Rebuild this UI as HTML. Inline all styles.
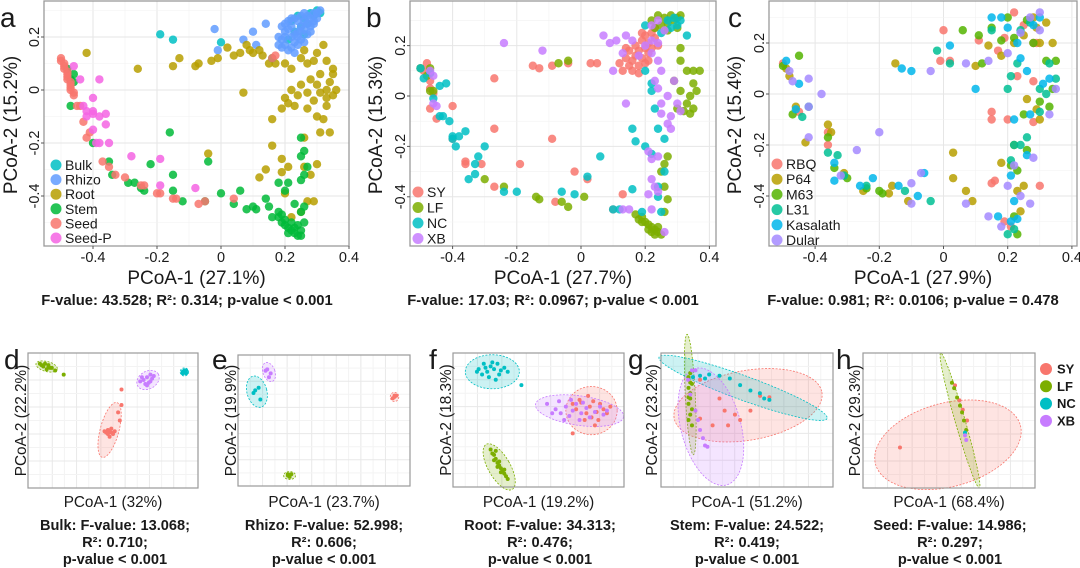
<!DOCTYPE html>
<html><head><meta charset="utf-8">
<style>
html,body{margin:0;padding:0;background:#fff;}
svg{display:block;font-family:"Liberation Sans",Arial,sans-serif;}
</style></head>
<body>
<svg id="fig" width="1080" height="568" viewBox="0 0 1080 568"></svg>
<script>
// ---------- DATA ----------
const ticks = [-0.4,-0.2,0,0.2,0.4];
const tickLabels = ["-0.4","-0.2","0","0.2","0.4"];
const yTicks = [-0.4,-0.2,0,0.2];
const yTickLabels = ["-0.4","-0.2","0","0.2"];

// panel a
const aGroups = ["Bulk","Rhizo","Root","Stem","Seed","Seed-P"];
const aColors = ["#00BFC4","#619CFF","#B79F00","#00BA38","#F8766D","#F564E3"];
const aBulk = [[-0.19,0.21],[-0.15,0.19],[0.0,0.18],[0.22,0.26],[0.24,0.28],[0.26,0.27],[0.28,0.29],[0.3,0.3],[0.31,0.29],[0.23,0.22],[0.25,0.24],[0.27,0.25],[0.29,0.28],[0.21,0.19],[0.26,0.21]];
const aRhizo = [[-0.02,0.23],[0.1,0.22],[0.14,0.25],[0.07,0.19],[0.11,0.17],[-0.01,0.15],[0.18,0.2],[0.19,0.24],[0.2,0.17],[0.2,0.22],[0.21,0.26],[0.21,0.15],[0.22,0.2],[0.22,0.24],[0.23,0.27],[0.23,0.18],[0.24,0.22],[0.24,0.26],[0.25,0.19],[0.25,0.28],[0.26,0.23],[0.26,0.26],[0.27,0.21],[0.27,0.28],[0.28,0.24],[0.28,0.27],[0.29,0.25],[0.29,0.29],[0.3,0.27],[0.31,0.3],[0.19,0.16],[0.2,0.2],[0.22,0.16],[0.23,0.14],[0.24,0.2],[0.25,0.24],[0.26,0.18],[0.27,0.25],[0.28,0.22],[0.21,0.23],[0.19,0.19],[0.18,0.17],[0.23,0.21],[0.24,0.17],[0.26,0.29],[0.29,0.26],[0.3,0.29],[0.25,0.22],[0.22,0.27],[0.2,0.25]];
const aRoot = [[-0.26,0.08],[-0.42,0.14],[-0.15,0.09],[-0.13,0.12],[-0.08,0.09],[-0.07,0.1],[-0.03,0.11],[-0.01,0.12],[0.02,0.16],[0.04,0.13],[0.06,0.14],[0.08,0.17],[0.09,0.15],[0.1,0.14],[0.12,0.15],[0.13,0.13],[0.15,0.1],[0.17,0.1],[0.2,0.1],[0.22,0.08],[0.25,0.12],[0.27,0.1],[0.3,0.14],[0.32,0.17],[0.33,0.11],[0.35,0.08],[0.35,0.06],[0.34,0.03],[0.36,0.0],[0.33,0.0],[0.31,-0.01],[0.3,0.02],[0.29,-0.04],[0.33,-0.03],[0.35,-0.02],[0.27,-0.01],[0.25,0.02],[0.24,-0.02],[0.22,0.0],[0.21,-0.05],[0.19,-0.07],[0.2,-0.03],[0.23,-0.06],[0.27,-0.07],[0.3,-0.1],[0.32,-0.11],[0.33,-0.06],[0.34,-0.16],[0.31,-0.16],[0.16,-0.11],[0.07,-0.01],[0.16,-0.21],[0.26,-0.18],[0.3,-0.28],[0.28,-0.32],[0.26,-0.29],[0.19,-0.26],[0.19,-0.31],[0.21,-0.29],[0.12,-0.33],[0.14,-0.3],[0.27,-0.42],[0.25,-0.46],[0.22,-0.48],[0.29,-0.42],[0.2,-0.39],[-0.04,-0.24],[0.31,0.06],[0.28,0.04],[0.26,0.15],[0.29,0.11]];
const aStem = [[-0.48,0.08],[-0.47,0.04],[-0.46,0.06],[-0.46,0.03],[-0.47,-0.06],[-0.4,-0.2],[-0.35,-0.27],[-0.34,-0.32],[-0.29,-0.35],[-0.27,-0.35],[-0.25,-0.37],[-0.24,-0.38],[-0.22,-0.28],[-0.16,-0.16],[-0.15,-0.32],[-0.15,-0.38],[-0.12,-0.42],[-0.04,-0.27],[-0.05,-0.42],[0.0,-0.39],[0.04,-0.43],[0.06,-0.38],[0.08,-0.45],[0.1,-0.44],[0.11,-0.45],[0.14,-0.41],[0.15,-0.44],[0.16,-0.48],[0.18,-0.46],[0.18,-0.35],[0.2,-0.38],[0.23,-0.43],[0.25,-0.46],[0.26,-0.44],[0.25,-0.34],[0.26,-0.32],[0.27,-0.29],[0.25,-0.25],[0.26,-0.23],[0.25,-0.18],[0.21,-0.35],[0.18,-0.48],[0.19,-0.5],[0.2,-0.51],[0.21,-0.52],[0.22,-0.53],[0.23,-0.54],[0.24,-0.55],[0.25,-0.53],[0.24,-0.51],[0.22,-0.5],[0.26,-0.5],[0.23,-0.52],[0.2,-0.49],[0.16,0.12],[0.21,-0.54],[0.25,-0.55],[0.19,-0.47]];
const aSeed = [[-0.5,0.12],[-0.5,0.11],[-0.49,0.1],[-0.49,0.09],[-0.49,0.08],[-0.48,0.07],[-0.48,0.06],[-0.48,0.05],[-0.48,0.04],[-0.47,0.03],[-0.47,0.02],[-0.47,0.01],[-0.47,0.0],[-0.46,-0.01],[-0.46,-0.02],[-0.45,-0.06],[-0.44,-0.06],[-0.43,-0.12],[-0.41,-0.16],[-0.42,-0.18],[-0.37,-0.27],[-0.35,-0.29],[-0.33,-0.32],[-0.3,-0.33],[-0.25,-0.36],[-0.24,-0.36],[-0.2,-0.39],[-0.19,-0.39],[-0.15,-0.41],[-0.14,-0.41],[-0.07,-0.43],[-0.05,-0.42],[0.04,-0.41],[0.16,0.12],[0.17,0.13]];
const aSeedP = [[-0.46,0.09],[-0.44,0.04],[-0.38,0.04],[-0.4,-0.03],[-0.43,-0.06],[-0.42,-0.08],[-0.42,-0.1],[-0.4,-0.08],[-0.4,-0.09],[-0.38,-0.1],[-0.4,-0.15],[-0.36,-0.09],[-0.36,-0.13],[-0.38,-0.2],[-0.35,-0.2],[-0.39,-0.2],[-0.28,-0.25],[-0.19,-0.26],[-0.19,-0.36],[-0.08,-0.37]];

// panel b
const bGroups = ["SY","LF","NC","XB"];
const bColors = ["#F8766D","#7CAE00","#00BFC4","#C77CFF"];
const bSY = [[-0.5,0.11],[-0.48,0.13],[-0.49,0.1],[-0.47,0.06],[-0.47,0.03],[-0.46,0.01],[-0.47,-0.05],[-0.45,-0.09],[-0.4,-0.17],[-0.36,-0.26],[-0.36,-0.27],[-0.31,-0.27],[-0.27,-0.36],[-0.27,-0.13],[-0.27,0.07],[-0.4,-0.04],[-0.19,-0.27],[-0.15,0.12],[-0.13,0.11],[-0.09,0.12],[-0.09,-0.17],[-0.08,-0.42],[-0.04,0.13],[-0.02,-0.3],[0.03,0.13],[0.05,0.13],[0.02,-0.33],[0.12,0.13],[0.1,-0.45],[0.13,-0.39],[0.13,0.1],[0.14,0.15],[0.15,0.12],[0.15,0.18],[0.16,0.14],[0.17,0.2],[0.17,0.16],[0.18,0.12],[0.18,0.18],[0.19,0.22],[0.19,0.15],[0.2,0.19],[0.2,0.24],[0.21,0.17],[0.21,0.21],[0.22,0.25],[0.22,0.19],[0.23,0.23],[0.23,0.27],[0.24,0.2],[0.16,0.1],[0.18,0.09],[0.2,0.13],[0.14,0.19],[0.19,0.25],[0.21,0.14]];
const bLF = [[-0.5,0.11],[-0.48,0.08],[-0.47,0.02],[-0.46,0.02],[-0.47,0.11],[-0.3,-0.33],[-0.24,-0.36],[-0.14,-0.4],[-0.13,-0.41],[-0.06,-0.42],[-0.04,-0.44],[0.01,-0.4],[-0.04,0.14],[-0.07,0.13],[0.17,-0.47],[0.18,-0.49],[0.19,-0.5],[0.2,-0.5],[0.21,-0.51],[0.21,-0.53],[0.22,-0.52],[0.22,-0.54],[0.23,-0.53],[0.23,-0.55],[0.24,-0.52],[0.24,-0.54],[0.25,-0.55],[0.19,-0.48],[0.26,-0.46],[0.22,0.3],[0.24,0.32],[0.25,0.28],[0.26,0.31],[0.27,0.29],[0.28,0.32],[0.29,0.3],[0.3,0.31],[0.31,0.32],[0.23,0.27],[0.27,0.26],[0.3,0.27],[0.31,0.14],[0.33,0.1],[0.35,0.1],[0.37,0.1],[0.35,0.05],[0.36,0.02],[0.34,0.0],[0.33,-0.03],[0.35,-0.05],[0.32,-0.06],[0.34,-0.07],[0.3,-0.05],[0.31,0.02],[0.29,0.06],[0.25,-0.3],[0.26,-0.27],[0.27,-0.24],[0.27,-0.41],[0.26,-0.36],[0.31,0.19]];
const bNC = [[-0.5,0.11],[-0.49,0.07],[-0.47,0.09],[-0.46,-0.01],[-0.44,0.04],[-0.42,0.05],[-0.44,-0.08],[-0.43,-0.08],[-0.41,-0.1],[-0.4,-0.16],[-0.4,-0.17],[-0.39,-0.2],[-0.38,-0.16],[-0.36,-0.14],[-0.3,-0.2],[-0.32,-0.24],[-0.35,-0.33],[-0.33,-0.31],[-0.33,-0.27],[-0.24,-0.38],[-0.2,-0.38],[-0.06,-0.38],[-0.02,-0.39],[0.02,-0.32],[0.06,-0.24],[0.1,-0.45],[0.12,-0.45],[0.16,-0.13],[0.17,-0.18],[0.16,-0.37],[0.19,-0.46],[0.22,-0.23],[0.24,-0.36],[0.26,-0.3],[0.24,-0.4],[0.25,-0.46],[0.2,-0.2],[0.22,0.02],[0.2,0.1],[0.22,0.05],[0.2,0.28],[0.25,0.25],[0.28,0.27],[0.3,0.28],[0.31,0.3],[0.33,0.24],[0.27,0.3],[0.29,0.31],[0.24,-0.13],[0.26,-0.17],[0.23,-0.05]];
const bXB = [[-0.47,0.1],[-0.46,0.08],[-0.46,-0.03],[-0.45,-0.04],[-0.24,0.21],[-0.12,0.18],[0.07,0.24],[0.09,0.21],[0.11,0.22],[0.14,0.24],[0.16,0.22],[0.13,0.17],[0.1,0.1],[0.14,-0.03],[0.18,0.16],[0.2,0.2],[0.22,0.22],[0.24,0.21],[0.22,0.17],[0.24,0.14],[0.25,0.1],[0.23,0.06],[0.24,0.03],[0.27,0.0],[0.25,-0.03],[0.25,-0.07],[0.28,-0.08],[0.3,-0.03],[0.31,-0.06],[0.29,0.06],[0.27,-0.11],[0.28,-0.13],[0.21,-0.22],[0.22,-0.25],[0.24,-0.24],[0.22,-0.33],[0.23,-0.36],[0.21,-0.39],[0.24,-0.38],[0.22,-0.45],[0.15,-0.45],[0.13,-0.45],[0.26,-0.54],[0.26,0.26],[0.22,0.28],[0.24,0.3]];

// panel c
const cGroups = ["RBQ","P64","M63","L31","Kasalath","Dular"];
const cColors = ["#F8766D","#B79F00","#53B400","#00C094","#00B6EB","#A58AFF"];
const cRBQ = [[-0.5,0.12],[-0.45,-0.07],[-0.36,-0.15],[-0.36,-0.2],[0.0,0.25],[-0.01,0.13],[0.02,0.13],[0.11,0.21],[0.17,0.17],[0.19,0.22],[0.22,0.32],[0.25,0.27],[0.28,0.2],[0.29,0.2],[0.15,-0.07],[0.15,-0.1],[0.2,-0.1],[0.28,-0.11],[0.15,-0.35],[0.16,-0.34],[0.3,-0.36],[0.19,-0.5],[0.21,-0.52],[0.23,0.07],[0.28,0.05]];
const cP64 = [[-0.49,0.1],[-0.48,0.07],[-0.46,-0.05],[-0.36,-0.12],[-0.35,-0.15],[-0.43,-0.19],[-0.31,-0.31],[-0.25,-0.38],[-0.16,-0.36],[-0.17,-0.39],[-0.11,-0.42],[-0.15,0.12],[0.03,-0.23],[0.03,-0.33],[0.07,-0.38],[0.09,-0.42],[0.1,0.11],[0.14,0.19],[0.18,0.15],[0.25,0.23],[0.29,0.26],[0.32,0.28],[0.3,0.2],[0.34,0.2],[0.26,-0.02],[0.29,-0.06],[0.22,-0.2],[0.23,-0.38],[0.25,-0.36],[0.24,-0.46],[0.18,-0.27],[0.3,-0.1],[0.22,0.2],[0.28,0.3]];
const cM63 = [[-0.45,0.15],[-0.5,0.11],[-0.47,-0.08],[-0.36,-0.17],[-0.34,-0.29],[-0.3,-0.33],[-0.19,-0.39],[-0.24,-0.37],[-0.2,-0.38],[0.06,0.25],[0.11,0.23],[0.15,0.26],[0.18,0.21],[0.2,0.3],[0.22,0.22],[0.26,0.29],[0.28,0.2],[0.32,0.13],[0.35,0.13],[0.34,0.02],[0.3,-0.03],[0.25,-0.08],[0.23,-0.3],[0.22,-0.48],[0.23,-0.55],[0.21,-0.28],[0.26,-0.22],[0.33,-0.05],[0.12,0.12]];
const cL31 = [[-0.44,-0.09],[-0.42,-0.05],[-0.36,-0.23],[-0.33,-0.24],[-0.31,-0.32],[-0.24,-0.36],[-0.12,-0.38],[-0.04,-0.42],[-0.02,0.17],[0.02,0.12],[0.15,0.25],[0.21,0.07],[0.2,0.02],[0.22,-0.2],[0.21,-0.26],[0.24,-0.2],[0.26,-0.17],[0.3,0.02],[0.33,0.12],[0.35,0.06],[0.32,0.0],[0.23,0.12],[0.27,0.28],[0.2,-0.55],[0.22,-0.53],[0.24,0.25],[0.3,-0.07]];
const cKas = [[-0.49,0.13],[-0.45,0.04],[-0.46,-0.06],[-0.34,-0.34],[-0.34,-0.27],[-0.26,-0.36],[-0.22,-0.33],[-0.14,-0.36],[-0.08,-0.4],[-0.06,-0.31],[-0.13,0.1],[-0.1,0.09],[0.02,0.19],[0.1,0.02],[0.15,0.3],[0.18,0.3],[0.2,0.26],[0.23,0.2],[0.24,0.14],[0.26,0.09],[0.31,0.04],[0.33,0.06],[0.27,-0.08],[0.22,-0.1],[0.26,-0.24],[0.21,-0.32],[0.22,-0.42],[0.17,-0.48],[0.21,-0.5],[0.23,-0.49],[0.3,0.3],[0.28,0.27]];
const cDular = [[-0.48,0.09],[-0.47,0.05],[-0.42,0.06],[-0.38,0.0],[-0.42,-0.05],[-0.42,-0.17],[-0.32,-0.32],[-0.27,-0.22],[-0.2,-0.15],[-0.1,-0.35],[-0.07,-0.31],[-0.1,-0.43],[-0.04,0.09],[0.07,0.12],[0.14,0.13],[0.2,0.16],[0.24,0.24],[0.27,0.3],[0.3,0.32],[0.3,0.25],[0.35,0.02],[0.33,-0.08],[0.22,-0.28],[0.2,-0.36],[0.27,-0.43],[0.28,-0.25],[0.24,-0.4],[0.07,-0.43],[0.14,-0.48],[0.18,-0.52]];

// bottom panels (d-h) groups SY, LF, NC, XB ; coordinates in 0-100 plot units
const subGroups = ["SY","LF","NC","XB"];
const subColors = ["#F8766D","#7CAE00","#00BFC4","#C77CFF"];
const dEll = [[48,43,5.5,21,15],[11,90,6.5,3.7,15],[92,86,2.5,3,0],[70.6,80,7,6.5,-30]];
const dSY = [[46,41],[47,40],[48,42],[49,41],[50,40],[47,43],[49,44],[51,42],[45,42],[48,38],[54,50],[53,56],[55,61.5],[55,73]];
const dLF = [[8,91],[10,92],[12,90],[13,89],[9,90],[11,88],[14,89],[7,92],[12,91],[16,87],[21,84]];
const dNC = [[91,86],[92,87],[93,85],[92,86],[91,85],[93,87]];
const dXB = [[68,80],[70,82],[72,79],[71,78],[69,77],[73,81],[67,82],[74,83],[70,76],[72,84],[66,79]];
const eEll = [[91,68,2.5,3.5,0],[30,8,3.5,3,0],[11,72,5.8,12.2,-15],[18,87,3.5,7.6,-20]];
const eSY = [[91,68],[90,67],[92,69],[91,69]];
const eLF = [[29,8],[30,8],[31,9],[30,7],[29,9]];
const eNC = [[10,73],[12,75],[13,66],[9,71]];
const eXB = [[17,89],[19,86],[18,83],[16,88]];
const fEll = [[81,57,15,18,0],[27,15,6.4,19.4,-30],[23,86,15.8,12.7,0],[74,57,26,11,8]];
const fSY = [[70,62],[72,58],[75,63],[78,55],[80,60],[82,64],[84,56],[86,62],[88,58],[90,55],[77,50],[81,52],[85,50],[74,65],[79,68],[70,40],[92,60],[83,46]];
const fLF = [[22,28],[24,24],[25,21],[26,18],[27,16],[28,14],[29,12],[30,10],[31,8],[24,20],[26,15],[28,11],[23,25],[30,13],[27,19],[32,6],[25,27]];
const fNC = [[15,88],[18,92],[20,86],[22,90],[24,88],[26,92],[28,87],[30,89],[17,84],[21,82],[25,80],[14,86],[32,86],[27,84],[19,89],[23,93],[40,76]];
const fXB = [[55,62],[60,58],[63,55],[66,60],[68,53],[70,57],[72,62],[75,55],[78,59],[80,52],[83,56],[86,60],[88,54],[90,57],[65,50],[74,50],[58,55],[62,64],[69,65],[76,63]];
const gEll = [[50.6,61,43.6,26,-10],[17,69,2.9,45,-3],[47.7,74,52,9,20],[29,45,17.4,45,-15]];
const gSY = [[22.7,80],[34,66],[37,57],[43,54],[52,57],[57.6,68],[63,67],[39,46],[46,50],[30,46],[22.7,51]];
const gLF = [[16,82],[17,78],[16,74],[17,70],[17,66],[16,62],[18,58],[17,54],[16,50],[18,46],[17,85],[18,77],[16,67]];
const gNC = [[18.6,82],[22.7,83],[28,84],[34,83],[40,81],[46,76],[52,72],[57.5,70],[60,66],[63,65],[25.6,81]];
const gXB = [[18,87],[20,87],[15.7,80],[17,69],[20,57],[21.5,50],[22.7,42.5],[24.4,36.5],[25.6,31],[27,30]];
const hEll = [[49.4,32,43.6,31,-15],[56.4,50,2.9,52,-16],null,null];
const hSY = [[21.5,30],[53.5,76],[56,65],[58,58],[60.5,50]];
const hLF = [[51.7,78],[53,74],[54.7,67],[56.4,61],[57.6,56],[58.7,50],[60,43]];
const hNC = [[59.3,41]];
const hXB = [[59.3,39],[60,35.6]];

// ---------- DRAWING ----------
const NS = "http://www.w3.org/2000/svg";
const svg = document.getElementById('fig');
function mk(tag, attrs, parent, text){
  const e = document.createElementNS(NS, tag);
  for (const k in attrs) e.setAttribute(k, attrs[k]);
  if (text !== undefined) e.textContent = text;
  (parent||svg).appendChild(e);
  return e;
}
function txt(x,y,s,size,opts,parent){
  opts = opts||{};
  const t = mk('text',{x:x,y:y,'font-size':size,'text-anchor':opts.anchor||'middle',fill:'#1a1a1a','font-weight':opts.bold?'bold':'normal'},parent,s);
  if (opts.rot) t.setAttribute('transform','rotate(-90 '+x+' '+y+')');
  return t;
}

function topPanel(cfg, groups, colors, series, letter, xt, stats, legendPos){
  const g = mk('g',{});
  
  
  const X = v => cfg.x0 + v*cfg.ux;
  const Y = v => cfg.y0 - v*cfg.uy;
  mk('rect',{x:cfg.l,y:cfg.t,width:cfg.r-cfg.l,height:cfg.b-cfg.t,fill:'#fff'},g);
  for (let v=-0.5; v<=0.41; v+=0.1){
    const px = X(v); if (px<cfg.l||px>cfg.r) continue;
    const major = Math.abs(Math.round(v*10)%2)===0;
    const gl = mk('line',{x1:px,x2:px,y1:cfg.t,y2:cfg.b,stroke:major?'#e6e6e6':'#f2f2f2','stroke-width':major?1:0.6},g);
    
    
  }
  for (let v=-0.6; v<=0.41; v+=0.1){
    const py = Y(v); if (py<cfg.t||py>cfg.b) continue;
    const major = Math.abs(Math.round(v*10)%2)===0;
    const gl = mk('line',{y1:py,y2:py,x1:cfg.l,x2:cfg.r,stroke:major?'#e6e6e6':'#f2f2f2','stroke-width':major?1:0.6},g);
    
    
  }
  series.forEach((pts,gi)=>{
    pts.forEach(p=>{
      const c = mk('circle',{cx:X(p[0]),cy:Y(p[1]),r:4.2,fill:colors[gi],'fill-opacity':0.85},g);
      
      
    });
  });
  const border = mk('rect',{x:cfg.l,y:cfg.t,width:cfg.r-cfg.l,height:cfg.b-cfg.t,fill:'none',stroke:'#9a9a9a','stroke-width':1.3},g);
  
  
  ticks.forEach((v,i)=>{
    mk('line',{x1:X(v),x2:X(v),y1:cfg.b,y2:cfg.b+3,stroke:'#555'},g);
    const t = txt(X(v),cfg.b+16,tickLabels[i],14.5,{},g);
    
    
  });
  yTicks.forEach((v,i)=>{
    mk('line',{x1:cfg.l-3,x2:cfg.l,y1:Y(v),y2:Y(v),stroke:'#555'},g);
    const t = txt(cfg.l-5,Y(v),yTickLabels[i],14.5,{rot:true},g);
    
    
  });
  const xtl = txt((cfg.l+cfg.r)/2, 284, xt[0], 19, {}, g);
  
  
  const ytl = txt(cfg.ytx, 125, xt[1], 19, {rot:true}, g);
  
  
  const st = txt(cfg.stx, 305, stats, 14.8, {bold:true}, g);
  
  
  const lt = txt(cfg.lx, 27, letter, 28, {anchor:'start'}, g);
  
  
  groups.forEach((nm,i)=>{
    const ly = legendPos.y + i*legendPos.dy;
    const le = mk('g',{},g);
    
    
    mk('circle',{cx:legendPos.x,cy:ly,r:5.5,fill:colors[i],'fill-opacity':0.85},le);
    txt(legendPos.x+9, ly+5, nm, 14, {anchor:'start'}, le);
  });
}

topPanel({l:44,r:349,t:1,b:246,x0:221,ux:320,y0:90,uy:265,ytx:17,stx:187,lx:0},
  aGroups,aColors,[aBulk,aRhizo,aRoot,aStem,aSeed,aSeedP],'a',
  ['PCoA-1 (27.1%)','PCoA-2 (15.2%)'],'F-value: 43.528; R²: 0.314; p-value < 0.001',{x:56,y:165,dy:14.6});
topPanel({l:410,r:716,t:1,b:246,x0:581,ux:321,y0:96,uy:252,ytx:382,stx:553,lx:366},
  bGroups,bColors,[bSY,bLF,bNC,bXB],'b',
  ['PCoA-1 (27.7%)','PCoA-2 (15.3%)'],'F-value: 17.03; R²: 0.0967; p-value < 0.001',{x:418,y:192,dy:15.5});
topPanel({l:769,r:1077,t:1,b:246,x0:943.5,ux:321,y0:94,uy:255,ytx:741,stx:913,lx:728},
  cGroups,cColors,[cRBQ,cP64,cM63,cL31,cKas,cDular],'c',
  ['PCoA-1 (27.9%)','PCoA-2 (15.4%)'],'F-value: 0.981; R²: 0.0106; p-value = 0.478',{x:777,y:164,dy:15.2});

function subPanel(cfg, ells, series, letter, xt, yt, lines){
  const g = mk('g',{});
  
  
  const w = cfg.r-cfg.l, h = cfg.b-cfg.t;
  const X = v => cfg.l + v*w/100;
  const Y = v => cfg.b - v*h/100;
  mk('rect',{x:cfg.l,y:cfg.t,width:w,height:h,fill:'#fff'},g);
  for (let i=1;i<14;i++){
    const px = cfg.l + i*w/14;
    mk('line',{x1:px,x2:px,y1:cfg.t,y2:cfg.b,stroke:i%2?'#f3f3f3':'#e8e8e8'},g);
  }
  for (let i=1;i<10;i++){
    const py = cfg.t + i*h/10;
    mk('line',{y1:py,y2:py,x1:cfg.l,x2:cfg.r,stroke:i%2?'#f3f3f3':'#e8e8e8'},g);
  }
  ells.forEach((e,gi)=>{
    if(!e) return;
    const cx = X(e[0]), cy = Y(e[1]);
    const el = mk('ellipse',{cx:cx,cy:cy,rx:e[2]*w/100,ry:e[3]*h/100,fill:subColors[gi],'fill-opacity':0.2,stroke:subColors[gi],'stroke-dasharray':'2 1.5','stroke-width':0.8,transform:'rotate('+e[4]+' '+cx+' '+cy+')'},g);
    
    
  });
  series.forEach((pts,gi)=>{
    pts.forEach(p=>{
      const c = mk('circle',{cx:X(p[0]),cy:Y(p[1]),r:2,fill:subColors[gi]},g);
      
      
    });
  });
  const border = mk('rect',{x:cfg.l,y:cfg.t,width:w,height:h,fill:'none',stroke:'#9a9a9a','stroke-width':1.2},g);
  
  
  const cxm = (cfg.l+cfg.r)/2;
  const xtl = txt(cxm, 507, xt, 15.3, {}, g);
  
  
  const ytl = txt(cfg.ytx, (cfg.t+cfg.b)/2, yt, 15.3, {rot:true}, g);
  
  
  lines.forEach((s,i)=>{
    const t = txt(cfg.stx, 530+i*17, s, 14.6, {bold:true}, g);
    
    
  });
  const lt = txt(cfg.lx, 369, letter, 28, {anchor:'start'}, g);
  
  
}

subPanel({l:28,r:198,t:353,b:488,ytx:26,stx:115,lx:4},dEll,[dSY,dLF,dNC,dXB],'d','PCoA-1 (32%)','PCoA-2 (22.2%)',['Bulk: F-value: 13.068;','R²: 0.710;','p-value < 0.001']);
subPanel({l:238,r:410,t:355,b:486,ytx:236,stx:324,lx:212},eEll,[eSY,eLF,eNC,eXB],'e','PCoA-1 (23.7%)','PCoA-2 (19.9%)',['Rhizo: F-value: 52.998;','R²: 0.606;','p-value < 0.001']);
subPanel({l:453,r:624,t:353,b:487,ytx:451,stx:540,lx:429},fEll,[fSY,fLF,fNC,fXB],'f','PCoA-1 (19.2%)','PCoA-2 (18.3%)',['Root: F-value: 34.313;','R²: 0.476;','p-value < 0.001']);
subPanel({l:661,r:833,t:353,b:487,ytx:657,stx:747,lx:628},gEll,[gSY,gLF,gNC,gXB],'g','PCoA-1 (51.2%)','PCoA-2 (23.2%)',['Stem:  F-value: 24.522;','R²: 0.419;','p-value < 0.001']);
subPanel({l:863,r:1035,t:353,b:488,ytx:860,stx:950,lx:836},hEll,[hSY,hLF,hNC,hXB],'h','PCoA-1 (68.4%)','PCoA-2 (29.3%)',['Seed: F-value: 14.986;','R²: 0.297;','p-value < 0.001']);

subGroups.forEach((nm,i)=>{
  const lg = mk('g',{});
  
  
  const ly = 369 + i*17.3;
  mk('circle',{cx:1046,cy:ly,r:6,fill:subColors[i]},lg);
  txt(1057, ly+4.5, nm, 13, {anchor:'start',bold:true}, lg);
});
</script>
</body></html>
